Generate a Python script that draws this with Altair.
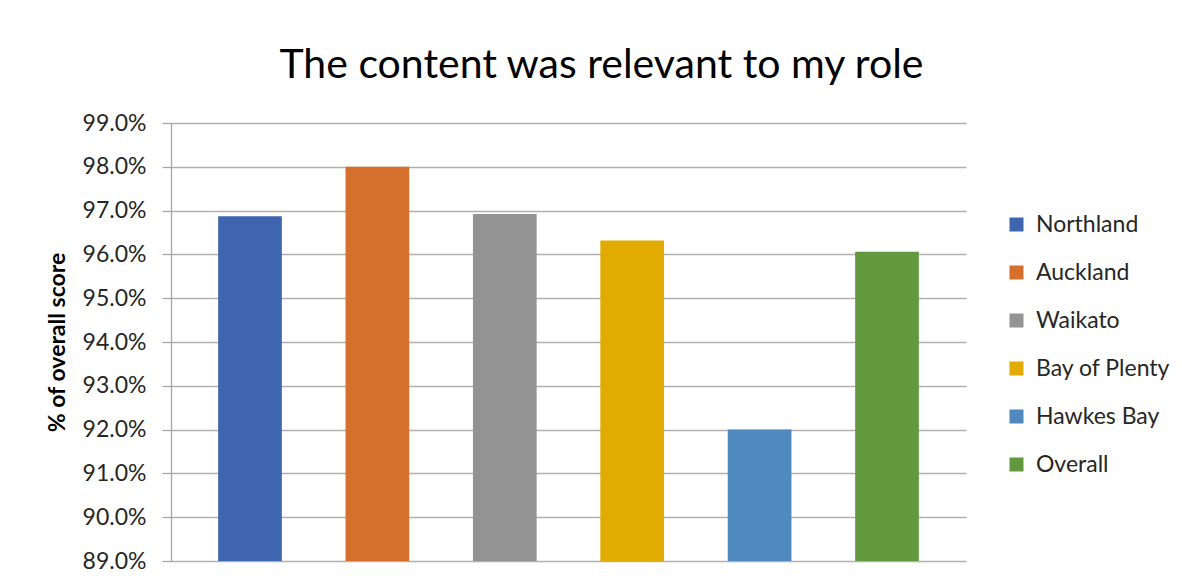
import altair as alt
import pandas as pd

regions = ["Northland", "Auckland", "Waikato", "Bay of Plenty", "Hawkes Bay", "Overall"]
scores = [0.9687, 0.9800, 0.9692, 0.9632, 0.9200, 0.9606]
colors = ["#3F65AE", "#D4702B", "#939393", "#E2AB00", "#4F89BD", "#62993E"]
y_ticks = [0.89, 0.90, 0.91, 0.92, 0.93, 0.94, 0.95, 0.96, 0.97, 0.98, 0.99]

df = pd.DataFrame({"Region": regions, "Score": scores})

FONT = "Lato"

chart = alt.Chart(df).mark_bar(clip=True).encode(
    x=alt.X("Region:N", sort=regions,
            scale=alt.Scale(paddingInner=0.5, paddingOuter=0.37),
            axis=None),
    y=alt.Y("Score:Q",
            scale=alt.Scale(domain=[0.89, 0.99], zero=False, nice=False),
            axis=alt.Axis(values=y_ticks, format=".1%", title="% of overall score",
                          titleFont=FONT, titleFontSize=23, titleFontWeight="bold",
                          titleColor="#000000", titlePadding=13,
                          labelFont=FONT, labelFontSize=23, labelColor="#262626",
                          labelPadding=16, tickSize=9, tickColor="#A6A6A6",
                          tickWidth=1.3, domainColor="#A6A6A6", domainWidth=1.3,
                          gridColor="#B0B0B0", gridWidth=1.3)),
    y2=alt.datum(0.89),
    color=alt.Color("Region:N", sort=regions,
                    scale=alt.Scale(domain=regions, range=colors),
                    legend=alt.Legend(title=None, orient="none", legendX=834, legendY=90,
                                      symbolType="square", symbolSize=196,
                                      symbolStrokeWidth=0, labelFont=FONT,
                                      labelFontSize=23, labelColor="#262626",
                                      labelOffset=8, rowPadding=24, padding=0,
                                      offset=0)),
).properties(
    width=795,
    height=438,
    title=alt.TitleParams("The content was relevant to my role", font=FONT,
                          fontSize=41, fontWeight="normal", color="#000000",
                          anchor="middle", dx=33, offset=25),
    autosize=alt.AutoSizeParams(type="none"),
    padding={"left": 163, "top": 115, "right": 208, "bottom": 13},
    background="white",
).configure_view(stroke=None)

chart.save("out.html", embed_options={"renderer": "svg", "actions": False})
